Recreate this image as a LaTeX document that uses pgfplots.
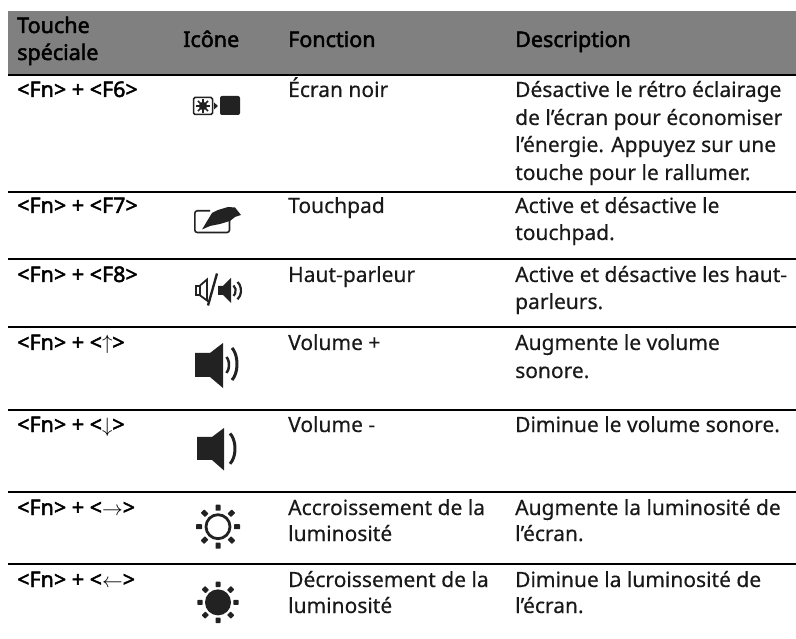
\documentclass[border=0pt]{standalone}
\usepackage{fontspec}
\usepackage{pgfplots}
\pgfplotsset{compat=1.18}
\setmainfont[FakeBold=0.4]{Noto Sans}
\newfontfamily\hb[FakeBold=2.2]{Noto Sans}
\newcommand{\T}[3]{\node[anchor=base west,inner sep=0pt,text=black!90] at (axis cs:#1,#2) {\fontsize{21}{25}\selectfont #3};}
\newcommand{\B}[3]{\node[anchor=base west,inner sep=0pt,text=black] at (axis cs:#1,#2) {\fontsize{21.5}{25}\hb #3};}
\definecolor{hd}{HTML}{808080}
\definecolor{ic}{HTML}{222222}
\begin{document}
\begin{tikzpicture}[x=1pt,y=1pt]
\path[use as bounding box] (0,0) rectangle (796,639);
\begin{axis}[at={(0,0)},anchor=south west,scale only axis,width=796pt,height=639pt,
  xmin=0,xmax=796,ymin=0,ymax=639,y dir=reverse,axis lines=none,clip=false]
\addplot[draw=none,fill=hd] coordinates {(8,11) (796,11) (796,74) (8,74)} --cycle;
\addplot[black,line width=2pt,no marks] coordinates {(8,75) (796,75)};
\addplot[black,line width=2pt,no marks] coordinates {(8,192) (796,192)};
\addplot[black,line width=2pt,no marks] coordinates {(8,259.5) (796,259.5)};
\addplot[black,line width=2pt,no marks] coordinates {(8,327.5) (796,327.5)};
\addplot[black,line width=2pt,no marks] coordinates {(8,410) (796,410)};
\addplot[black,line width=2pt,no marks] coordinates {(8,491.7) (796,491.7)};
\addplot[black,line width=2pt,no marks] coordinates {(8,563.7) (796,563.7)};
\B{17}{33}{Touche}\B{17}{60}{spéciale}\B{183}{47}{Icône}\B{288}{47}{Fonction}\B{515}{47}{Description}
\B{17}{97}{<Fn> + <F6>}
\T{288}{97}{Écran noir}
\T{515}{97}{Désactive le rétro éclairage}
\T{515}{125}{de l’écran pour économiser}
\T{515}{152}{l’énergie. Appuyez sur une}
\T{515}{180}{touche pour le rallumer.}
\B{17}{213}{<Fn> + <F7>}
\T{288}{213}{Touchpad}
\T{515}{213}{Active et désactive le}
\T{515}{240}{touchpad.}
\B{17}{282}{<Fn> + <F8>}
\T{288}{282}{Haut-parleur}
\T{515}{282}{Active et désactive les haut-}
\T{515}{309}{parleurs.}
\B{17}{350}{<Fn> + <$\uparrow$>}
\T{288}{350}{Volume +}
\T{515}{350}{Augmente le volume}
\T{515}{378}{sonore.}
\B{17}{432}{<Fn> + <$\downarrow$>}
\T{288}{432}{Volume -}
\T{515}{432}{Diminue le volume sonore.}
\B{17}{515}{<Fn> + <$\rightarrow$>}
\T{288}{515}{Accroissement de la}
\T{288}{541}{luminosité}
\T{515}{515}{Augmente la luminosité de}
\T{515}{541}{l’écran.}
\B{17}{587}{<Fn> + <$\leftarrow$>}
\T{288}{587}{Décroissement de la}
\T{288}{613}{luminosité}
\T{515}{587}{Diminue la luminosité de}
\T{515}{613}{l’écran.}
\end{axis}
\begin{scope}[shift={(0,639)},y=-1pt,x=1pt,ic]
% icon 1
\draw[line width=1.5pt,rounded corners=1.5pt] (193.5,97.5) rectangle (212.5,114.5);
\fill (203,106) circle (4.2);
\foreach \a in {0,45,...,315}\draw[line width=1.7pt] (203,106) -- +(\a:7.2);
\fill (214,102.5) -- (218,106) -- (214,109.5) --cycle;
\fill[rounded corners=2pt] (220,96) rectangle (240,115);
% icon 2
\draw[line width=1.6pt,rounded corners=2.5pt] (210,210.8) -- (194.8,210.8) -- (194.8,232.5) -- (229.5,232.5) -- (229.5,220);
\fill (202,229.5) -- (212,213) -- (218,210) -- (228,207) -- (235,207.5) -- (241,215) -- (235,217) -- (230,221) -- (220,224) -- (210,226) -- cycle;
% icon 3
\draw[line width=2pt] (195.5,286) rectangle (199.5,295);
\draw[line width=1.8pt] (199.5,286) -- (207,279.5) -- (207,300.5) -- (199.5,295);
\draw[line width=2.4pt] (217,273.5) -- (208,305.5);
\fill (218,286) -- (223,286) -- (231,278) -- (231,303) -- (223,295) -- (218,295) -- cycle;
\draw[line width=2.2pt] (233.5,285.5) arc (-60:60:4.5 and 6);
\draw[line width=2.2pt] (237.5,282) arc (-60:60:7 and 10);
% icon 4
\fill (195,353) -- (210,353) -- (223,343) -- (223,388) -- (210,377) -- (195,377) -- cycle;
\draw[line width=2.5pt] (226.5,357) arc (-60:60:5 and 9.2);
\draw[line width=3pt] (232,348) arc (-60:60:10 and 18.5);
% icon 5
\fill (197,437) -- (212,437) -- (224,428) -- (224,470.5) -- (212,460) -- (197,460) -- cycle;
\draw[line width=3pt] (230,433.5) arc (-60:60:10 and 17.5);
% icon 6
\draw[line width=2.8pt] (218,526.7) circle (12);
\foreach \a in {0,45,...,315}{\begin{scope}[shift={(218,526.7)},rotate=\a]\fill[rounded corners=0.6pt] (16,-2.5) rectangle (22,2.5);\end{scope}}
% icon 7
\fill (218,602.4) circle (13);
\foreach \a in {0,45,...,315}{\begin{scope}[shift={(218,602.4)},rotate=\a]\fill[rounded corners=0.6pt] (15.3,-2.5) rectangle (20.7,2.5);\end{scope}}
\end{scope}
\end{tikzpicture}
\end{document}
